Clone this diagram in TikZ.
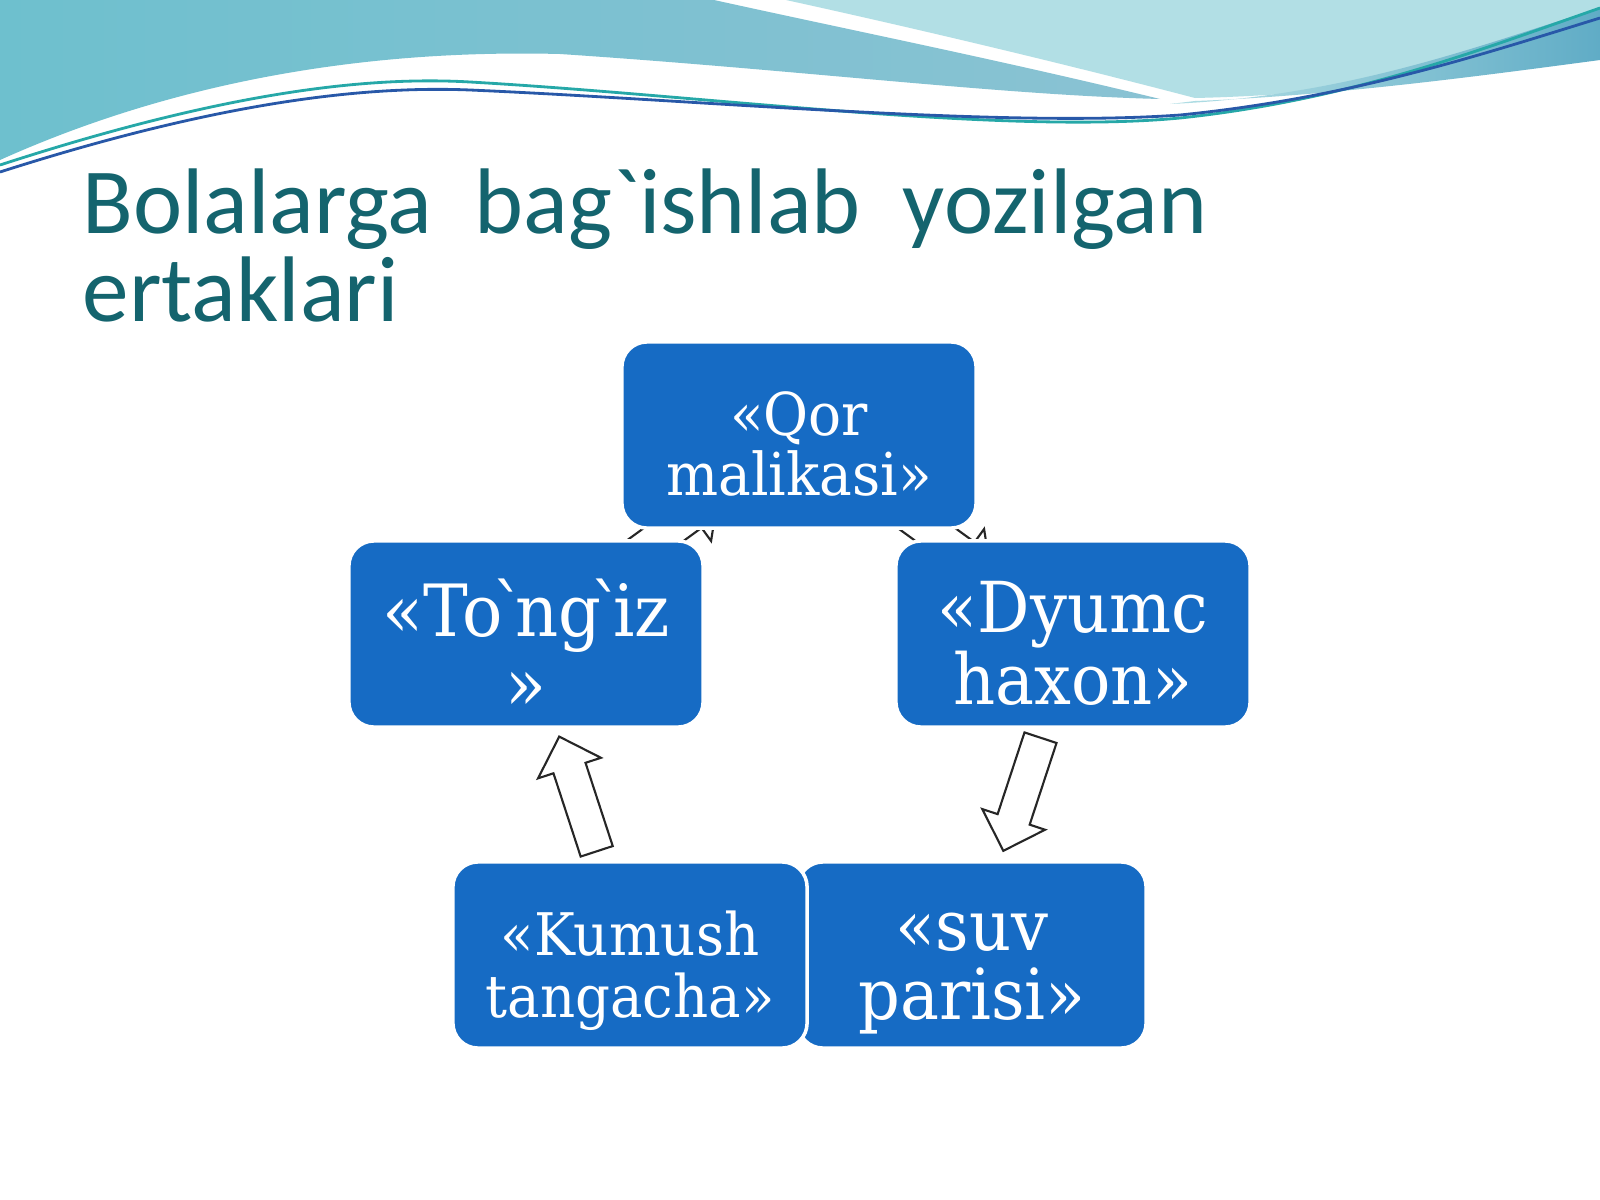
\documentclass[tikz,border=0pt]{standalone}
\usepackage{fontspec}
\setmainfont{DejaVu Serif}[Ligatures=TeXOff, FakeStretch=0.93]
\newfontfamily\titlefont{Carlito}[Ligatures=TeXOff]
\usetikzlibrary{shapes.arrows}

\definecolor{boxblue}{RGB}{22,107,196}
\definecolor{titleteal}{RGB}{20,100,110}
\definecolor{waveblue}{RGB}{138,194,211}
\definecolor{waveleft}{RGB}{110,192,206}
\definecolor{wavepale}{RGB}{178,223,229}
\definecolor{wavedark}{RGB}{96,172,198}
\definecolor{lineteal}{RGB}{38,168,168}
\definecolor{lineblue}{RGB}{40,88,168}

\newcommand\grv{\kern-0.15em`\kern-0.15em}

\begin{document}
\begin{tikzpicture}[x=0.01cm, y=-0.01cm,
    box/.style={rectangle, rounded corners=0.25cm, fill=boxblue, draw=white,
        line width=1pt, inner sep=0pt, minimum width=3.54cm, minimum height=1.86cm},
    boxtext/.style={text=white, align=center, inner sep=0pt},
    blockarrow/.style={single arrow, draw=black!85, line width=0.6pt, fill=white,
        minimum height=1.2cm, inner xsep=0pt, inner ysep=0.158cm, outer sep=0pt,
        single arrow head extend=0.162cm, single arrow tip angle=90},
    titletext/.style={font=\titlefont\fontsize{26.5}{26.5}\selectfont, text=titleteal,
        inner sep=0pt, anchor=base west}]
    \useasboundingbox (0,0) rectangle (1600,1200);
    \fill[white] (0,0) rectangle (1600,1200);

    % waves at the top
    \shade[left color=waveleft, right color=waveblue] (0,0) -- (714,0)
        .. controls (850,30) and (1000,60) .. (1160,99)
        .. controls (1000,95) and (800,70) .. (560,54)
        .. controls (400,50) and (200,70) .. (0,160) -- cycle;
    \fill[wavepale] (786,0) .. controls (900,25) and (1050,60) .. (1195,98)
        .. controls (1330,95) and (1480,75) .. (1600,58) -- (1600,0) -- cycle;
    \shade[left color=wavepale, right color=wavedark] (1170,104)
        .. controls (1350,96) and (1480,45) .. (1600,8) -- (1600,60)
        .. controls (1480,76) and (1330,96) .. (1195,101) -- cycle;
    \draw[lineteal, line width=0.8pt] (0,165) .. controls (200,100) and (350,75) .. (470,82)
        .. controls (700,95) and (1000,135) .. (1180,118)
        .. controls (1350,100) and (1480,50) .. (1600,8);
    \draw[lineblue, line width=0.8pt] (0,172) .. controls (200,108) and (350,85) .. (470,90)
        .. controls (700,100) and (1000,128) .. (1180,115)
        .. controls (1350,98) and (1480,55) .. (1600,18);

    % title
    \node[titletext] (title1) at (82,233) {Bolalarga\ \ bag`ishlab\ \ yozilgan};
    \node[titletext] (title2) at (82,321) {ertaklari};

    % arrows (behind the boxes)
    \node[blockarrow, rotate=36] (a1) at (663,535) {};
    \node[blockarrow, rotate=-36] (a2) at (936,535) {};
    \node[blockarrow, anchor=tail, minimum height=1.19cm, rotate=251.8] (a3) at (1040.5,737.7) {};
    \node[blockarrow, anchor=tail, minimum height=1.206cm, rotate=108.1] (a4) at (596.7,851.3) {};

    % boxes
    \node[box, minimum width=3.48cm] (suv) at (972,955) {};
    \node[box] (kumush) at (630,955) {};
    \node[box] (tongiz) at (526,634) {};
    \node[box] (dyumc) at (1073,634) {};
    \node[box] (qor) at (799,435) {};

    \node[boxtext, font=\fontsize{20}{19.6}\selectfont] (suvtext)
        at ([yshift=-5.3pt]suv.center) {«suv\\parisi»};
    \node[boxtext, font=\fontsize{16.7}{17.5}\selectfont] (kumushtext)
        at ([yshift=-4.4pt]kumush.center) {«Kumush\\tangacha»};
    \node[boxtext, font=\fontsize{20.5}{20.75}\selectfont] (tongiztext)
        at ([yshift=-2.9pt]tongiz.center) {«To\grv ng\grv iz\\»};
    \node[boxtext, font=\fontsize{20}{20.4}\selectfont] (dyumctext)
        at ([yshift=-2.6pt]dyumc.center) {«Dyumc\\haxon»};
    \node[boxtext, font=\fontsize{16.8}{17}\selectfont] (qortext)
        at ([yshift=-2.6pt]qor.center) {«Qor\\malikasi»};
\end{tikzpicture}
\end{document}
